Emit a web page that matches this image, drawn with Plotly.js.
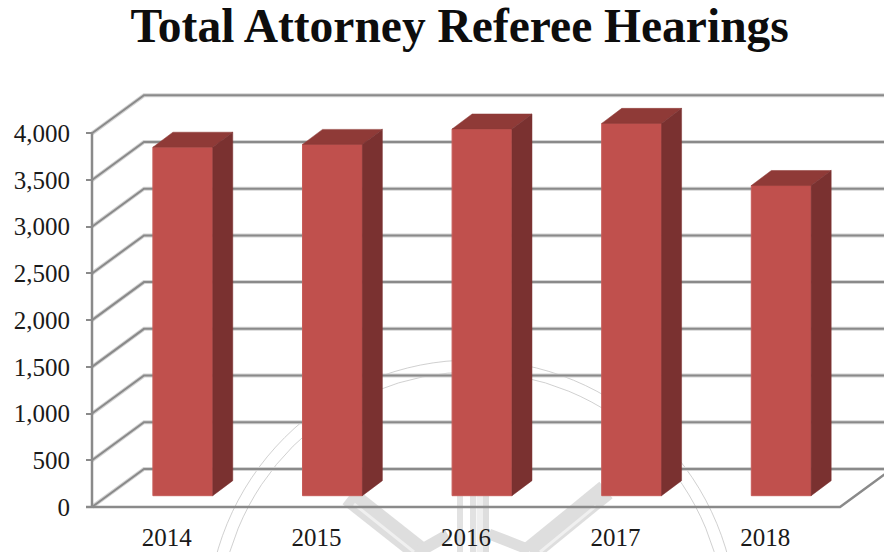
<!DOCTYPE html>
<html>
<head>
<meta charset="utf-8">
<script src="https://cdn.plot.ly/plotly-3.0.1.min.js"></script>
<style>html,body{margin:0;padding:0;background:#fff;overflow:hidden}#chart{width:884px;height:552px}</style>
</head>
<body>
<div id="chart"></div>
<script>
// ---- data ----
const years = ['2014', '2015', '2016', '2017', '2018'];
const hearings = [3730, 3760, 3925, 3985, 3320];
const yTicks = [0, 500, 1000, 1500, 2000, 2500, 3000, 3500, 4000];
const yTickText = ['0', '500', '1,000', '1,500', '2,000', '2,500', '3,000', '3,500', '4,000'];

// ---- pseudo-3D projection, in axis units ----
const xMin = -0.0401, xMax = 5.294, yMax = 4485, yMin = -43;
const wallDX = 0.3476, wallDY = 407;    // chart box depth
const barDX = 0.134, barDY = 161;       // bar depth
const barShiftX = 0.107, barFloor = 121; // bar position inside the box
const barW = 0.4;

const GRID = '#8a8a8a', GLOW = '#d4d4d4', FRONT = '#c0504d', TOP = '#8f3a37', SIDE = '#7a3130';
const centers = years.map((_, i) => i + 0.5 + barShiftX);

// ---- faint seal watermark behind the plot, page pixels ----
const W = 884, H = 552, mL = 86, mT = 88, mB = 41;
const px = v => (v - mL) / (W - mL);
const py = v => 1 - (v - mT) / (H - mT - mB);
const sealCx = 472, sealCy = 625, sealRadii = [265, 253];
const sealBands = [
  [[349, 496], [425, 556], 21, '#dedede'],
  [[354, 504], [414, 552], 3, '#f0f0f0'],
  [[418, 552], [448, 535], 12, '#dedede'],
  [[460, 496], [460, 552], 6, '#e2e2e2'],
  [[473, 496], [473, 552], 6, '#e2e2e2'],
  [[480, 496], [480, 552], 7, '#efefef'],
  [[486, 496], [486, 552], 6, '#dedede'],
  [[489, 534], [530, 550], 11, '#dedede'],
  [[530, 552], [606, 490], 21, '#dedede'],
  [[540, 552], [596, 506], 3, '#f0f0f0']
];
const shapes = [];
sealRadii.forEach(r => shapes.push({
  type: 'circle', xref: 'paper', yref: 'paper', layer: 'below',
  x0: px(sealCx - r), x1: px(sealCx + r), y0: py(sealCy + r), y1: py(sealCy - r),
  line: {color: '#c4c4c4', width: 0.8}
}));
sealBands.forEach(b => shapes.push({
  type: 'line', xref: 'paper', yref: 'paper', layer: 'below',
  x0: px(b[0][0]), y0: py(b[0][1]), x1: px(b[1][0]), y1: py(b[1][1]),
  line: {color: b[3], width: b[2]}
}));
// back-wall and side-wall gridlines
yTicks.forEach(v => {
  const path = `M 0 ${v} L ${wallDX} ${v + wallDY} L ${xMax + 0.1} ${v + wallDY}`;
  shapes.push({type: 'path', xref: 'x', yref: 'y', layer: 'below', path, line: {color: GLOW, width: 4}});
  shapes.push({type: 'path', xref: 'x', yref: 'y', layer: 'below', path, line: {color: GRID, width: 2}});
});

// ---- traces ----
const frameBase = {type: 'scatter', mode: 'lines', hoverinfo: 'skip', showlegend: false};
const traces = [];
traces.push({...frameBase, x: [0, 0], y: [0, 4000], line: {color: GRID, width: 2.5}});
traces.push({...frameBase, x: [xMin, 5, 5 + wallDX], y: [0, 0, wallDY], line: {color: GRID, width: 2.5}});

traces.push({
  type: 'bar', x: centers, y: hearings, base: barFloor, width: barW,
  marker: {color: FRONT, line: {color: '#c65c59', width: 1}}, showlegend: false, name: 'Hearings'
});
const faceBase = {type: 'scatter', mode: 'lines', fill: 'toself', line: {width: 0.5}, hoverinfo: 'skip', showlegend: false};
hearings.forEach((v, i) => {
  const l = centers[i] - barW / 2, r = centers[i] + barW / 2, t = barFloor + v;
  traces.push({...faceBase, x: [l, l + barDX, r + barDX, r, l], y: [t, t + barDY, t + barDY, t, t],
    fillcolor: TOP, line: {color: TOP, width: 0.5}});
  traces.push({...faceBase, x: [r, r + barDX, r + barDX, r, r], y: [t, t + barDY, barFloor + barDY, barFloor, t],
    fillcolor: SIDE, line: {color: SIDE, width: 0.5}});
});

const tickFont = {family: '"Liberation Serif", serif', size: 25, color: '#1a1a1a'};
const layout = {
  width: W, height: H,
  margin: {l: mL, r: 0, t: mT, b: mB, pad: 0},
  paper_bgcolor: '#fff', plot_bgcolor: 'rgba(0,0,0,0)',
  showlegend: false,
  title: {
    text: 'Total Attorney Referee Hearings',
    font: {family: '"Liberation Serif", serif', size: 47.5, weight: 700, color: '#0d0d0d'},
    x: 0.52, xanchor: 'center', y: 0.954, yanchor: 'middle'
  },
  xaxis: {
    range: [xMin, xMax], tickvals: years.map((_, i) => i + 0.5), ticktext: years,
    showgrid: false, zeroline: false, showline: false, ticks: '',
    tickfont: tickFont, ticklabelstandoff: 9, fixedrange: true
  },
  yaxis: {
    range: [yMin, yMax], tickvals: yTicks, ticktext: yTickText,
    showgrid: false, zeroline: false, showline: false,
    ticks: 'inside', ticklen: 6, tickwidth: 2, tickcolor: GRID,
    tickfont: tickFont, ticklabelstandoff: 15, fixedrange: true
  },
  shapes
};
Plotly.newPlot('chart', traces, layout, {displayModeBar: false, staticPlot: true});
</script>
</body>
</html>
